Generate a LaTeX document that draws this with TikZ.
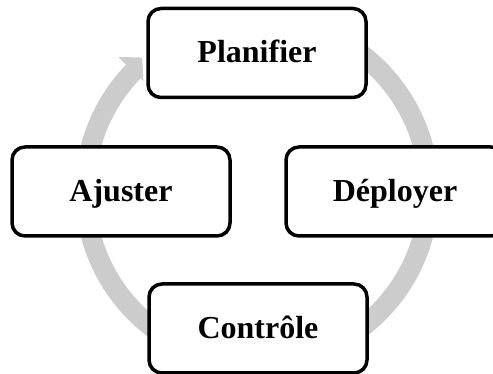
\documentclass[tikz,border=0pt]{standalone}
\usepackage{fontspec}
\setmainfont{Liberation Serif}
\begin{document}
\begin{tikzpicture}[x=1pt,y=1pt,
  stepbox/.style={draw=black, line width=3.5pt, fill=white, rounded corners=13pt,
    minimum width=218pt, minimum height=89pt, inner sep=0pt,
    text height=22pt, text depth=2pt,
    font=\fontsize{32}{38}\selectfont\bfseries},
  ring/.style={fill=black!20}]
\useasboundingbox (0,0) rectangle (493,374);
\clip (0,0) rectangle (493,374);
\coordinate (C) at (257,183);
% ring segments (mostly hidden behind the boxes)
\fill[ring] ([shift={(60:182)}]C) arc[start angle=60,end angle=5,radius=182]
  -- ([shift={(5:162)}]C) arc[start angle=5,end angle=60,radius=162] -- cycle;
\fill[ring] ([shift={(-5:182)}]C) arc[start angle=-5,end angle=-60,radius=182]
  -- ([shift={(-60:162)}]C) arc[start angle=-60,end angle=-5,radius=162] -- cycle;
\fill[ring] ([shift={(-120:182)}]C) arc[start angle=-120,end angle=-175,radius=182]
  -- ([shift={(-175:162)}]C) arc[start angle=-175,end angle=-120,radius=162] -- cycle;
\fill[ring] ([shift={(175:182)}]C) arc[start angle=175,end angle=136,radius=182]
  -- ([shift={(136:193)}]C) -- ([shift={(130.7:176)}]C) -- ([shift={(136:158)}]C)
  -- ([shift={(136:162)}]C) arc[start angle=136,end angle=175,radius=162] -- cycle;
% boxes
\node[stepbox] (plan) at (257,321) {Planifier};
\node[stepbox] (depl) at (395,182.5) {Déployer};
\node[stepbox] (ctrl) at (258,45.5) {Contrôle};
\node[stepbox] (ajus) at (121,182.5) {Ajuster};
\end{tikzpicture}
\end{document}
